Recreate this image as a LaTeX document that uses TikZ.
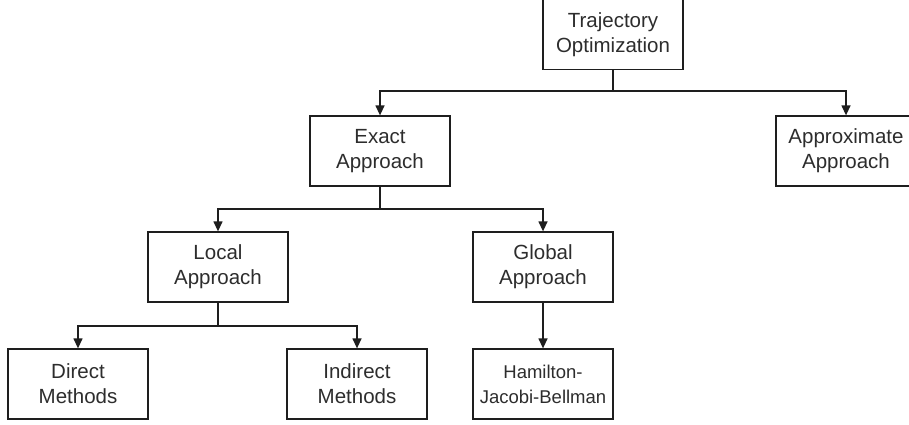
\documentclass[tikz,border=0pt]{standalone}
\usepackage{fontspec}
\setmainfont{Liberation Sans}
\usetikzlibrary{arrows.meta}
\definecolor{ink}{RGB}{30,30,30}
\definecolor{txt}{RGB}{45,45,45}
\tikzset{
  box/.style={draw=ink, line width=1.3pt, fill=white, minimum width=140pt, minimum height=70pt,
    inner sep=0pt, align=center, text=txt, font=\fontsize{20.5}{25}\selectfont},
  smallbox/.style={box, font=\fontsize{18.5}{25}\selectfont},
  conn/.style={draw=ink, line width=1.3pt, -{Triangle[length=10pt,width=9pt]}}
}
\begin{document}
\begin{tikzpicture}[x=1pt,y=-1pt]
\clip (0,0) rectangle (909,424);
\fill[white] (0,0) rectangle (909,424);
\node[box] (traj) at (613,34.5) {Trajectory\\Optimization};
\node[box] (exact) at (380,151) {Exact\\Approach};
\node[box] (approx) at (846,151) {Approximate\\Approach};
\node[box] (local) at (218,267) {Local\\Approach};
\node[box] (global) at (543,267) {Global\\Approach};
\node[box] (direct) at (78,384) {Direct\\Methods};
\node[box] (indirect) at (357,384) {Indirect\\Methods};
\node[smallbox] (hjb) at (543,384) {Hamilton-\\Jacobi-Bellman};
\coordinate (j1) at (0,91);
\coordinate (j2) at (0,209);
\coordinate (j3) at (0,326);
\draw[conn] (traj.south) -- (traj.south |- j1) -| (exact.north);
\draw[conn] (traj.south) -- (traj.south |- j1) -| (approx.north);
\draw[conn] (exact.south) -- (exact.south |- j2) -| (local.north);
\draw[conn] (exact.south) -- (exact.south |- j2) -| (global.north);
\draw[conn] (local.south) -- (local.south |- j3) -| (direct.north);
\draw[conn] (local.south) -- (local.south |- j3) -| (indirect.north);
\draw[conn] (global.south) -- (hjb.north);
\end{tikzpicture}
\end{document}
